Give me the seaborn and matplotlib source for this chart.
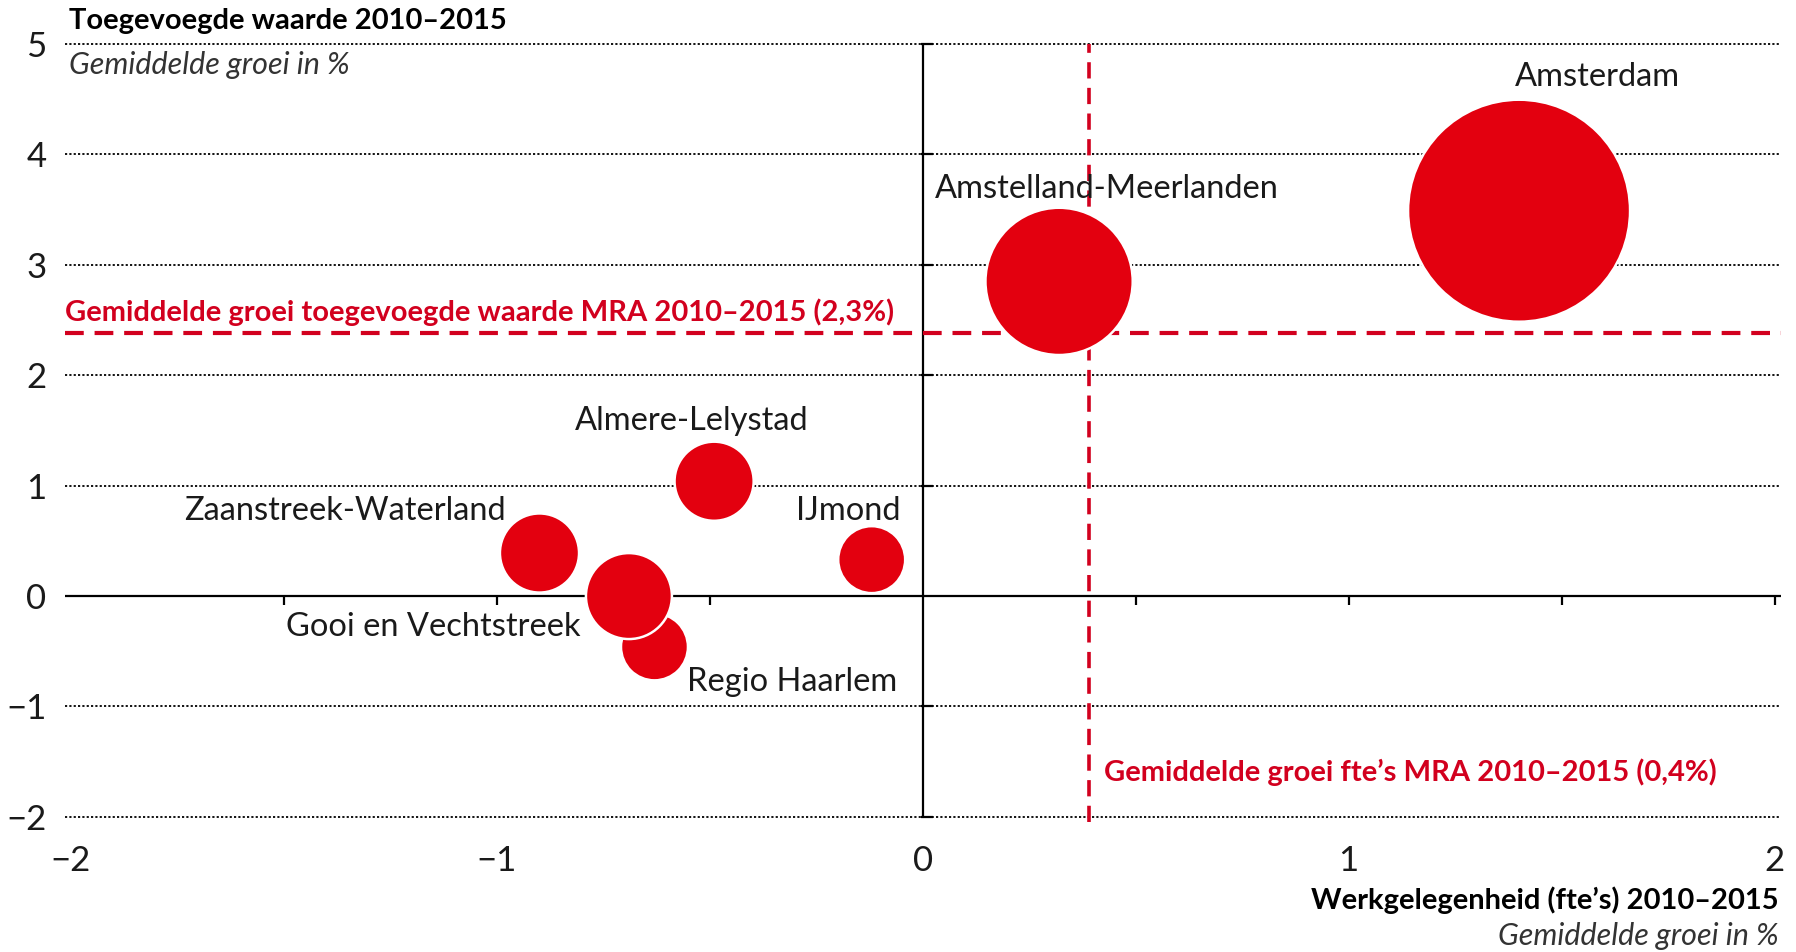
import numpy as np
import pandas as pd
import matplotlib.pyplot as plt
import seaborn as sns

# regio's in de MRA, gemiddelde groei 2010-2015 (%)
regios = ['Amsterdam', 'Amstelland-Meerlanden', 'Almere-Lelystad', 'IJmond',
          'Zaanstreek-Waterland', 'Regio Haarlem', 'Gooi en Vechtstreek']
groei_fte = [1.40, 0.32, -0.49, -0.12, -0.90, -0.63, -0.69]
groei_tw = [3.49, 2.85, 1.04, 0.33, 0.39, -0.46, 0.00]
omvang = [100, 44, 12.7, 9.1, 12.7, 9.1, 15.0]  # bubble area, Amsterdam = 100

mra_fte = 0.39
mra_tw = 2.38

RED = '#E3000F'
RED_TXT = '#D2001E'
INK = '#1a1a1a'

sns.set_theme(style='white')
plt.rcParams['font.family'] = ['Lato', 'DejaVu Sans']

df = pd.DataFrame({'regio': regios, 'fte': groei_fte, 'tw': groei_tw, 'omvang': omvang})

fig = plt.figure(figsize=(17.96, 9.52), dpi=100)
ax = fig.add_axes([64.6 / 1796, 0.1303, (1781 - 64.6) / 1796, 0.8293])
ax.set_xlim(-2.015, 2.015)
ax.set_ylim(-2.1, 5.05)

# dotted gridlines
for y in [-2, -1, 1, 2, 3, 4, 5]:
    ax.axhline(y, color='black', lw=1.3, ls=(0, (1.2, 1.2)), zorder=1)

# axis cross
ax.axhline(0, color='black', lw=1.6, zorder=2)
ax.plot([0, 0], [-2, 5], color='black', lw=1.6, zorder=2)
xt = [v for v in np.arange(-1.5, 2.01, 0.5) if v != 0]
ax.vlines(xt, -0.08, 0, color='black', lw=1.6, zorder=2)
yt = [v for v in range(-2, 6) if v != 0]
ax.hlines(yt, -0.005, 0.025, color='black', lw=1.6, zorder=2)

# MRA averages
ax.axhline(mra_tw, color=RED_TXT, lw=3.0, ls=(0, (4.5, 2.6)), zorder=3)
ax.plot([mra_fte, mra_fte], [-2.05, 5], color=RED_TXT, lw=2.6, ls=(0, (4.5, 2.6)), zorder=3)

smax = (2 * 111 * 0.72) ** 2
sns.scatterplot(data=df, x='fte', y='tw', size='omvang', sizes=(0, smax), size_norm=(0, 100),
                color=RED, edgecolor='white', linewidth=1.8, alpha=1, legend=False, ax=ax, zorder=4)

# labels at bubbles (offsets in pixels)
offsets = {
    'Amsterdam': (78, 134, 'center'),
    'Amstelland-Meerlanden': (48, 92, 'center'),
    'Almere-Lelystad': (-22, 60, 'center'),
    'IJmond': (-23, 49, 'center'),
    'Zaanstreek-Waterland': (-34, 42, 'right'),
    'Gooi en Vechtstreek': (-48, -31, 'right'),
    'Regio Haarlem': (33, -35, 'left'),
}
for r, x, y in zip(regios, groei_fte, groei_tw):
    dx, dy, ha = offsets[r]
    ax.annotate(r, (x, y), xytext=(dx, dy), textcoords='offset pixels', ha=ha, va='center',
                fontsize=23.5, color=INK, zorder=5)

ax.annotate('Gemiddelde groei toegevoegde waarde MRA 2010–2015 (2,3%)', (-2.015, mra_tw),
            xytext=(0, 21), textcoords='offset pixels', ha='left', va='center',
            fontsize=21, fontweight='bold', color=RED_TXT)
ax.annotate('Gemiddelde groei fte’s MRA 2010–2015 (0,4%)', (mra_fte, 0),
            xytext=(15, -176), textcoords='offset pixels', ha='left', va='center',
            fontsize=21, fontweight='bold', color=RED_TXT)

ax.set_xticks([-2, -1, 0, 1, 2])
ax.set_yticks(range(-2, 6))
ax.tick_params(axis='both', length=0, labelsize=25, colors=INK)
ax.tick_params(axis='x', pad=12)
ax.tick_params(axis='y', pad=13)
ax.set_xlabel('')
ax.set_ylabel('')
sns.despine(ax=ax, left=True, bottom=True)
ax.set_facecolor('white')

fig.text(69 / 1796, 1 - 21 / 952, 'Toegevoegde waarde 2010–2015', ha='left', va='center',
         fontsize=21, fontweight='bold', color='black')
fig.text(69 / 1796, 1 - 65 / 952, 'Gemiddelde groei in %', ha='left', va='center',
         fontsize=22, fontstyle='italic', color='#333333')
fig.text(1779 / 1796, 1 - 900 / 952, 'Werkgelegenheid (fte’s) 2010–2015', ha='right', va='center',
         fontsize=21, fontweight='bold', color='black')
fig.text(1779 / 1796, 1 - 936 / 952, 'Gemiddelde groei in %', ha='right', va='center',
         fontsize=22, fontstyle='italic', color='#333333')

fig.savefig('out.png', dpi=100, facecolor='white')
